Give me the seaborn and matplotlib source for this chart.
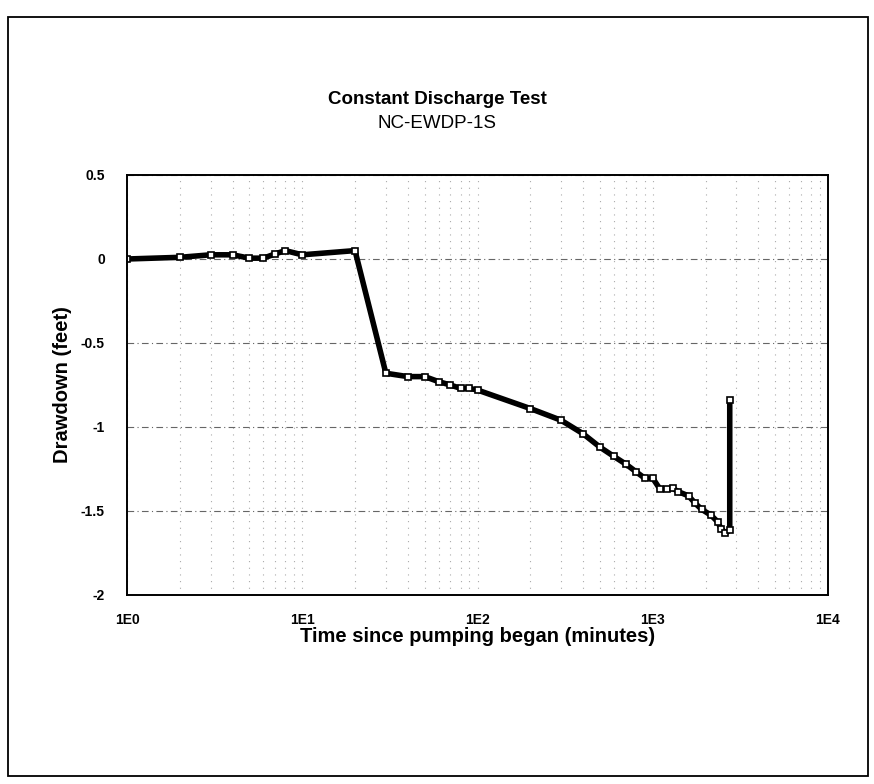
import matplotlib
matplotlib.use("Agg")
import matplotlib.pyplot as plt
from matplotlib.patches import Rectangle
from matplotlib.ticker import LogLocator, FixedLocator, NullFormatter
import seaborn as sns
import pandas as pd

# ---- data ----
time_min = [1, 2, 3, 4, 5, 6, 7, 8, 10, 20,
            30, 40, 50, 60, 70, 80, 90, 100, 200, 300, 400,
            500, 600, 700, 800, 900, 1000, 1100, 1200, 1300, 1400,
            1600, 1750, 1900, 2150, 2350, 2450, 2600, 2750, 2750]
drawdown_ft = [0.0, 0.01, 0.025, 0.025, 0.005, 0.005, 0.03, 0.05, 0.025, 0.05,
               -0.68, -0.70, -0.70, -0.73, -0.75, -0.77, -0.77, -0.78, -0.89, -0.96, -1.04,
               -1.12, -1.175, -1.22, -1.265, -1.305, -1.305, -1.37, -1.37, -1.365, -1.385,
               -1.41, -1.455, -1.49, -1.525, -1.565, -1.605, -1.63, -1.615, -0.84]
x_ticks = [1, 10, 100, 1000, 10000]
x_tick_labels = ["1E0", "1E1", "1E2", "1E3", "1E4"]
y_ticks = [0.5, 0, -0.5, -1, -1.5, -2]
y_tick_labels = ["0.5", "0", "-0.5", "-1", "-1.5", "-2"]
title = "Constant Discharge Test"
subtitle = "NC-EWDP-1S"
x_label = "Time since pumping began (minutes)"
y_label = "Drawdown (feet)"

sns.set_theme(style="white")
plt.rcParams["font.family"] = ["Liberation Sans", "DejaVu Sans"]
plt.rcParams.update({"text.color": "black", "axes.labelcolor": "black",
                     "xtick.color": "black", "ytick.color": "black"})

df = pd.DataFrame({"t": time_min, "d": drawdown_ft})

fig = plt.figure(figsize=(8.74, 7.84), dpi=100)
ax = fig.add_axes([127 / 874, 1 - 595 / 784, (828 - 127) / 874, (595 - 175) / 784])

ax.set_xscale("log")
ax.set_xlim(1, 10000)
ax.set_ylim(-2, 0.5)

# grid
ax.xaxis.set_major_locator(FixedLocator(x_ticks))
ax.xaxis.set_minor_locator(LogLocator(base=10, subs=range(2, 10), numticks=20))
ax.xaxis.set_minor_formatter(NullFormatter())
ax.grid(True, which="major", axis="y", color="#666666", linestyle=(0, (6, 3, 1, 3)), linewidth=0.8)
ax.grid(True, which="both", axis="x", color="#aaaaaa", linestyle=(0, (1, 5)), linewidth=0.8)

sns.lineplot(data=df, x="t", y="d", sort=False, estimator=None, ax=ax,
             color="black", linewidth=4, marker="s", markersize=5,
             markerfacecolor="white", markeredgecolor="black", markeredgewidth=1.2)

ax.set_xticks(x_ticks)
ax.set_xticklabels(x_tick_labels, fontsize=10, fontweight="bold")
ax.set_yticks(y_ticks)
ax.set_yticklabels(y_tick_labels, fontsize=10, fontweight="bold")
ax.tick_params(axis="x", which="both", length=0, pad=13)
ax.tick_params(axis="y", length=0, pad=16)

ax.set_xlabel(x_label, fontsize=14.5, fontweight="bold", labelpad=0)
ax.set_ylabel(y_label, fontsize=14.5, fontweight="bold", labelpad=6)

for s in ax.spines.values():
    s.set_color("black")
    s.set_linewidth(1.4)

cx = 437 / 874
fig.text(cx, 1 - 99 / 784, title, ha="center", va="center", fontsize=13.5, fontweight="bold")
fig.text(cx, 1 - 123 / 784, subtitle, ha="center", va="center", fontsize=13.5)

# outer chart-area border
fig.patches.append(Rectangle((8 / 874, 1 - 776 / 784), (868 - 8) / 874, (776 - 17) / 784,
                             transform=fig.transFigure, fill=False, edgecolor="black",
                             linewidth=1.3))

fig.savefig("out.png", dpi=100, facecolor="white")
